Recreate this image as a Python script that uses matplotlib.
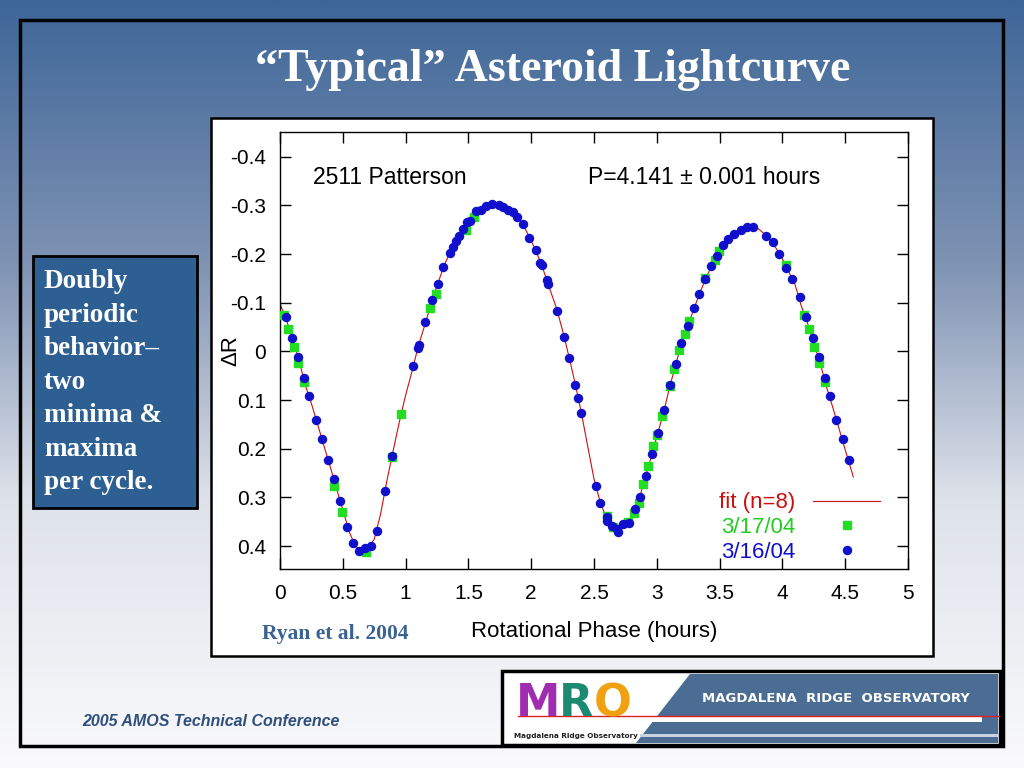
import numpy as np
import matplotlib
matplotlib.use("Agg")
import matplotlib.pyplot as plt
from matplotlib.patches import Rectangle, Polygon
from matplotlib.ticker import FuncFormatter, MultipleLocator

plt.rcParams["axes.unicode_minus"] = False

# 3/16/04 observations (blue circles)
phase_0316 = [0.048, 0.098, 0.146, 0.191, 0.233, 0.287, 0.334, 0.382, 0.430, 0.480,
              0.533, 0.584, 0.632, 0.680, 0.727, 0.775, 0.836, 0.894, 1.061, 1.097,
              1.105, 1.157, 1.208, 1.255, 1.301, 1.351, 1.375, 1.399, 1.428, 1.460,
              1.486, 1.513, 1.561, 1.598, 1.640, 1.688, 1.741, 1.778, 1.818, 1.853,
              1.890, 1.932, 1.985, 2.036, 2.073, 2.083, 2.128, 2.136, 2.208, 2.261,
              2.304, 2.351, 2.370, 2.399, 2.513, 2.550, 2.601, 2.607, 2.646, 2.686,
              2.694, 2.734, 2.779, 2.826, 2.869, 2.917, 2.962, 3.007, 3.060, 3.105,
              3.153, 3.193, 3.248, 3.296, 3.339, 3.386, 3.434, 3.477, 3.525, 3.567,
              3.615, 3.668, 3.716, 3.768, 3.869, 3.925, 3.975, 4.031, 4.079, 4.140,
              4.190, 4.246, 4.291, 4.337, 4.379, 4.427, 4.480, 4.528]
dr_0316 = [-0.070, -0.028, 0.012, 0.055, 0.092, 0.140, 0.180, 0.223, 0.262, 0.308,
           0.360, 0.394, 0.409, 0.404, 0.399, 0.369, 0.286, 0.214, 0.029, -0.007,
           -0.014, -0.060, -0.105, -0.139, -0.173, -0.202, -0.214, -0.226, -0.238, -0.251,
           -0.266, -0.269, -0.289, -0.291, -0.298, -0.303, -0.301, -0.297, -0.291, -0.286,
           -0.277, -0.262, -0.234, -0.209, -0.181, -0.177, -0.146, -0.139, -0.084, -0.030,
           0.014, 0.068, 0.095, 0.127, 0.277, 0.312, 0.340, 0.349, 0.359, 0.364,
           0.371, 0.355, 0.353, 0.324, 0.299, 0.256, 0.211, 0.167, 0.120, 0.068,
           0.026, -0.017, -0.053, -0.089, -0.118, -0.149, -0.175, -0.197, -0.218, -0.231,
           -0.241, -0.249, -0.256, -0.256, -0.238, -0.224, -0.200, -0.171, -0.149, -0.111,
           -0.070, -0.028, 0.012, 0.055, 0.092, 0.140, 0.180, 0.223]

# 3/17/04 observations (green squares)
phase_0317 = [0.032, 0.066, 0.111, 0.146, 0.194, 0.432, 0.496, 0.688, 0.892, 0.963,
              1.197, 1.239, 1.478, 1.547, 2.601, 2.654, 2.773, 2.818, 2.858, 2.893,
              2.933, 2.970, 3.004, 3.044, 3.105, 3.140, 3.174, 3.222, 3.259, 3.386,
              3.466, 3.498, 4.026, 4.172, 4.214, 4.254, 4.294, 4.339]
dr_0317 = [-0.075, -0.046, -0.009, 0.024, 0.062, 0.277, 0.330, 0.412, 0.216, 0.128,
           -0.089, -0.118, -0.250, -0.277, 0.338, 0.360, 0.350, 0.332, 0.311, 0.272,
           0.236, 0.195, 0.172, 0.133, 0.071, 0.036, -0.004, -0.036, -0.063, -0.151,
           -0.187, -0.207, -0.178, -0.074, -0.046, -0.009, 0.024, 0.062]

# Fourier fit (n=8)
fit_phase = [0.00, 0.05, 0.10, 0.15, 0.20, 0.25, 0.30, 0.35, 0.40, 0.45,
             0.50, 0.55, 0.60, 0.65, 0.70, 0.75, 0.80, 0.85, 0.90, 0.95,
             1.00, 1.05, 1.10, 1.15, 1.20, 1.25, 1.30, 1.35, 1.40, 1.45,
             1.50, 1.55, 1.60, 1.65, 1.70, 1.75, 1.80, 1.85, 1.90, 1.95,
             2.00, 2.05, 2.10, 2.15, 2.20, 2.25, 2.30, 2.35, 2.40, 2.45,
             2.50, 2.55, 2.60, 2.65, 2.70, 2.75, 2.80, 2.85, 2.90, 2.95,
             3.00, 3.05, 3.10, 3.15, 3.20, 3.25, 3.30, 3.35, 3.40, 3.45,
             3.50, 3.55, 3.60, 3.65, 3.70, 3.75, 3.80, 3.85, 3.90, 3.95,
             4.00, 4.05, 4.10, 4.15, 4.20, 4.25, 4.30, 4.35, 4.40, 4.45,
             4.50, 4.55, 4.565]
fit_dr = [-0.098, -0.066, -0.024, 0.017, 0.068, 0.107, 0.150, 0.194, 0.237, 0.282,
          0.325, 0.370, 0.400, 0.410, 0.404, 0.386, 0.335, 0.267, 0.205, 0.145,
          0.090, 0.042, -0.010, -0.052, -0.095, -0.135, -0.172, -0.202, -0.226, -0.248,
          -0.266, -0.282, -0.292, -0.299, -0.302, -0.301, -0.295, -0.285, -0.273, -0.253,
          -0.228, -0.199, -0.165, -0.127, -0.090, -0.043, 0.010, 0.066, 0.127, 0.195,
          0.262, 0.310, 0.343, 0.362, 0.370, 0.358, 0.342, 0.312, 0.266, 0.222,
          0.174, 0.130, 0.075, 0.028, -0.020, -0.055, -0.091, -0.125, -0.156, -0.182,
          -0.206, -0.226, -0.240, -0.249, -0.255, -0.257, -0.254, -0.243, -0.230, -0.212,
          -0.190, -0.164, -0.138, -0.094, -0.058, -0.016, 0.023, 0.072, 0.114, 0.158,
          0.202, 0.245, 0.258]

W, H = 1024, 768
fig = plt.figure(figsize=(W / 100, H / 100), dpi=100)


def fx(px):
    return px / W


def fy(py):
    return 1 - py / H


# slide background: blue at the top fading to white
bg = fig.add_axes([0, 0, 1, 1])
bg.set_axis_off()
stops = np.array([[62, 102, 152], [128, 148, 180], [222, 226, 234], [250, 250, 252]]) / 255
pos = [0.0, 0.35, 0.65, 1.0]
t = np.linspace(0, 1, 400)
grad = np.stack([np.interp(t, pos, stops[:, c]) for c in range(3)], axis=-1)
bg.imshow(grad[:, None, :], aspect="auto", extent=[0, 1, 0, 1], origin="upper")
bg.set_xlim(0, 1)
bg.set_ylim(0, 1)

fig.patches.append(Rectangle((fx(20), fy(746)), fx(983), (746 - 20) / H, fill=False,
                             ec="black", lw=2.5, transform=fig.transFigure))
fig.patches.append(Rectangle((fx(211), fy(656)), fx(722), (656 - 118) / H, fc="white",
                             ec="black", lw=1.8, transform=fig.transFigure, zorder=1))

fig.text(fx(553), fy(70), "\u201cTypical\u201d Asteroid Lightcurve", ha="center", va="center",
         color="white", fontsize=33, fontweight="bold", family="Liberation Serif")

# left note box
fig.patches.append(Rectangle((fx(33), fy(508)), fx(164), (508 - 256) / H, fc="#2e5f92",
                             ec="black", lw=2, transform=fig.transFigure, zorder=1))
fig.text(fx(44), fy(269), "Doubly\nperiodic\nbehavior\u2013\ntwo\nminima &\nmaxima\nper cycle.",
         ha="left", va="top", color="white", fontsize=19.5, fontweight="bold",
         family="Liberation Serif", linespacing=1.45, zorder=3)

# chart
ax = fig.add_axes([fx(280), fy(569), fx(628), (569 - 132) / H], zorder=2)
ax.plot(fit_phase, fit_dr, color="#cc1010", lw=0.8, label="fit (n=8)", zorder=2)
ax.plot(phase_0317, dr_0317, ls="none", marker="s", ms=5.2, color="#22dd22", mec="#22dd22",
        label="3/17/04", zorder=3)
ax.plot(phase_0316, dr_0316, ls="none", marker="o", ms=5.8, color="#1010cc", mec="#1010cc",
        label="3/16/04", zorder=4)

ax.set_xlim(0, 5)
ax.set_ylim(0.447, -0.451)
ax.xaxis.set_major_locator(MultipleLocator(0.5))
ax.yaxis.set_major_locator(MultipleLocator(0.1))
fmt = FuncFormatter(lambda v, p: "%g" % round(v, 2))
ax.xaxis.set_major_formatter(fmt)
ax.yaxis.set_major_formatter(fmt)
ax.tick_params(direction="in", length=8, width=1, top=True, right=True,
               labelsize=15, labelfontfamily="Liberation Sans")
ax.tick_params(axis="x", pad=11)
ax.tick_params(axis="y", pad=10)
for s in ax.spines.values():
    s.set_linewidth(1)

ax.set_xlabel("Rotational Phase (hours)", fontsize=16, family="Liberation Sans")
ax.xaxis.set_label_coords(0.5, -0.118)
ax.set_ylabel("\u0394R", fontsize=16, family="Liberation Sans")
ax.yaxis.set_label_coords(-0.061, 0.5)

ax.text(0.263, -0.357, "2511 Patterson", fontsize=16.5, family="Liberation Sans", va="center")
ax.text(2.45, -0.357, "P=4.141 \u00b1 0.001 hours", fontsize=16.5, family="Liberation Sans",
        va="center")

ax.legend(loc="lower right", bbox_to_anchor=(0.987, -0.032), frameon=False, markerfirst=False,
          handlelength=3.0, handletextpad=0.8, labelspacing=0.17,
          labelcolor=["#cc1010", "#22cc22", "#1010cc"],
          prop={"family": "Liberation Sans", "size": 16})

fig.text(fx(335), fy(634), "Ryan et al. 2004", ha="center", va="center", color="#3a6392",
         fontsize=15.5, fontweight="bold", family="Liberation Serif", zorder=3)

fig.text(fx(82), fy(721), "2005 AMOS Technical Conference", ha="left", va="center",
         color="#2e4e7c", fontsize=11.5, fontweight="bold", style="italic",
         family="Liberation Sans")

# observatory banner
fig.patches.append(Rectangle((fx(502), fy(745)), fx(498), (745 - 671) / H, fc="white",
                             ec="black", lw=2.5, transform=fig.transFigure, zorder=1))
fig.patches.append(Polygon([(fx(690), fy(674)), (fx(998), fy(674)), (fx(998), fy(743)),
                            (fx(636), fy(743))], closed=True, fc="#4b6d93", ec="none",
                           transform=fig.transFigure, zorder=2))
fig.patches.append(Rectangle((fx(652), fy(722)), fx(330), 6 / H, fc="white", ec="none",
                             transform=fig.transFigure, zorder=3))
fig.patches.append(Rectangle((fx(640), fy(737)), fx(358), 3 / H, fc="#c9d3df", ec="none",
                             transform=fig.transFigure, zorder=3))
fig.lines.append(plt.Line2D([fx(518), fx(999)], [fy(716), fy(716)], color="#dd2020", lw=1,
                            transform=fig.transFigure, zorder=4))
fig.text(fx(836), fy(699), "MAGDALENA  RIDGE  OBSERVATORY", ha="center", va="center",
         color="white", fontsize=9.5, fontweight="bold", family="DejaVu Sans", zorder=5)
for letter, xx, col in [("M", 538, "#a02cb0"), ("R", 576, "#1c8a70"), ("O", 613, "#f0a010")]:
    fig.text(fx(xx), fy(704), letter, ha="center", va="center", color=col, fontsize=32,
             fontweight="bold", family="DejaVu Sans Condensed", zorder=5)
fig.text(fx(576), fy(736), "Magdalena Ridge Observatory", ha="center", va="center",
         color="#202020", fontsize=5.2, fontweight="bold", family="DejaVu Sans Condensed",
         zorder=5)

fig.savefig("out.png", dpi=100)
